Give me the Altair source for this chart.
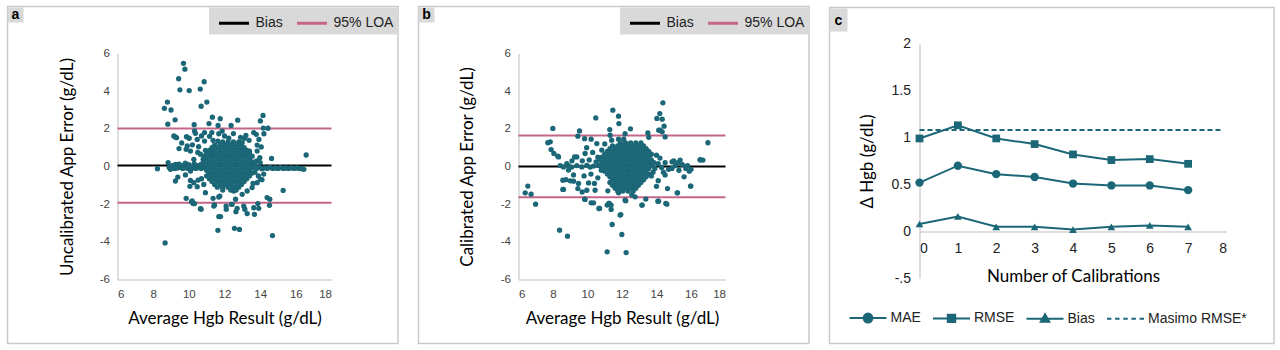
import altair as alt
import pandas as pd

TEAL = "#1b6777"
PINK = "#c4668a"
BOX = "#d9d9d9"
FRAME = "#c9c9c9"
TFONT = "Lato"
LFONT = "Liberation Sans"

# ---------------- panel a : uncalibrated ----------------
a_scatter = [
    (9.70, 5.48), (9.78, 5.17), (9.43, 4.66), (9.50, 4.07), (10.02, 4.03), (10.86, 4.50),
    (10.64, 4.11), (11.01, 3.42), (10.69, 3.20), (8.80, 3.42), (8.63, 3.09), (9.00, 3.00),
    (8.82, 2.25), (9.23, 2.48), (11.32, 2.62), (11.76, 2.54), (12.74, 2.46), (14.16, 2.71),
    (14.01, 2.42), (14.18, 2.04), (14.44, 2.03), (11.13, 2.28), (11.64, 2.18), (12.37, 2.18),
    (10.30, 2.22),
    (9.16, 1.62), (9.31, 1.53), (9.22, 1.58), (9.87, 1.58), (10.02, 1.50), (9.91, 1.09),
    (9.85, 0.91), (10.09, 0.82), (10.32, 1.88), (10.47, 1.44), (10.88, 1.80), (10.88, 1.35),
    (10.93, 0.86), (11.14, 0.82), (10.65, 0.65), (10.28, 0.38), (10.80, 0.38), (11.36, 1.39),
    (11.16, 1.60), (11.63, 1.35), (11.68, 1.74), (11.87, 1.88), (12.24, 1.50), (12.99, 1.27),
    (13.12, 1.50), (13.38, 1.39), (13.64, 1.80), (13.78, 1.71), (13.93, 1.44), (14.21, 1.74),
    (13.83, 1.14), (14.06, 1.04), (13.98, 0.47), (14.64, 0.43), (13.83, 0.82), (13.40, 0.82),
    (10.37, 1.76), (10.71, 1.62), (11.29, 1.80), (12.00, 1.62), (12.50, 1.75), (12.90, 1.55),
    (13.20, 1.65), (9.60, 1.25), (10.55, 1.05), (10.20, 1.15), (9.45, 0.95), (10.50, 0.75),
    (8.24, -0.12), (8.84, 0.20), (8.97, -0.15), (9.25, 0.11), (9.45, 0.12), (9.60, 0.05),
    (9.10, 0.05), (9.80, 0.18), (10.00, 0.10), (10.30, 0.15), (10.50, 0.05), (10.70, 0.12),
    (8.90, -0.05), (9.05, 0.02), (9.20, -0.10), (9.35, -0.08), (9.50, -0.05), (9.65, -0.10),
    (9.80, -0.07), (9.95, -0.10), (10.10, -0.05), (10.25, -0.08), (10.40, -0.10), (10.55, -0.06),
    (10.70, -0.10), (10.85, -0.05), (13.80, -0.10), (13.95, -0.05), (14.10, -0.12), (14.25, -0.07),
    (14.40, -0.10), (14.55, -0.05), (14.70, -0.10), (14.85, -0.08), (15.00, -0.10), (15.15, -0.06),
    (15.30, -0.10), (15.45, -0.08), (15.60, -0.10), (15.75, -0.07), (15.90, -0.10), (16.05, -0.08),
    (16.20, -0.10), (16.35, -0.12), (16.45, -0.15), (16.58, 0.61),
    (9.25, -0.77), (9.38, -0.56), (9.81, -0.45), (10.09, -0.24), (10.06, -1.05), (10.28, -0.86),
    (10.47, -1.07), (10.52, -0.72), (10.71, -0.65), (10.84, -0.95), (10.93, -1.39), (9.85, -1.69),
    (10.15, -1.87), (10.24, -1.97), (10.65, -2.24), (11.36, -1.69), (11.68, -1.62), (11.44, -2.04),
    (12.09, -2.10), (12.43, -2.01), (12.71, -2.22), (12.62, -1.74), (13.08, -2.10), (13.64, -2.19),
    (13.87, -1.97), (14.39, -1.65), (14.52, -2.06), (13.83, -0.86), (14.02, -0.68), (13.55, -1.12),
    (13.27, -1.30), (12.99, -1.48), (12.52, -1.30), (10.09, -0.74), (10.19, -1.83), (10.32, -1.97),
    (10.69, -2.27), (11.74, -1.57), (12.39, -2.01), (12.64, -2.40), (13.14, -2.27), (13.27, -2.50),
    (13.68, -2.54), (13.92, -2.22), (14.54, -1.74), (15.29, -1.27), (11.40, -2.10), (12.10, -2.27),
    (11.68, -2.66), (11.78, -2.66), (11.63, -3.39), (12.56, -3.28), (12.84, -3.34), (8.67, -4.06),
    (14.69, -3.67), (13.70, -0.30), (13.90, -0.50), (14.10, -0.70), (13.60, -0.90), (14.20, -0.40),
    (13.80, 0.30), (14.00, 0.20),
]
a_core_rows = [1.3, 1.15, 1.0, 0.85, 0.7, 0.55, 0.4, 0.25, 0.1, -0.05, -0.2, -0.35, -0.5, -0.65, -0.8, -0.95, -1.1, -1.25]
a_core_x = [
    [11.9, 12.2, 12.5, 12.8],
    [11.45, 11.75, 12.05, 12.35, 12.65, 12.95],
    [11.3, 11.6, 11.9, 12.2, 12.5, 12.8, 13.1],
    [11.15, 11.45, 11.75, 12.05, 12.35, 12.65, 12.95, 13.25],
    [11.0, 11.3, 11.6, 11.9, 12.2, 12.5, 12.8, 13.1, 13.4],
    [10.85, 11.15, 11.45, 11.75, 12.05, 12.35, 12.65, 12.95, 13.25, 13.55],
    [11.0, 11.3, 11.6, 11.9, 12.2, 12.5, 12.8, 13.1, 13.4],
    [10.85, 11.15, 11.45, 11.75, 12.05, 12.35, 12.65, 12.95, 13.25, 13.55],
    [11.0, 11.3, 11.6, 11.9, 12.2, 12.5, 12.8, 13.1, 13.4, 13.7],
    [10.85, 11.15, 11.45, 11.75, 12.05, 12.35, 12.65, 12.95, 13.25, 13.55],
    [11.0, 11.3, 11.6, 11.9, 12.2, 12.5, 12.8, 13.1, 13.4],
    [11.15, 11.45, 11.75, 12.05, 12.35, 12.65, 12.95, 13.25, 13.55],
    [11.0, 11.3, 11.6, 11.9, 12.2, 12.5, 12.8, 13.1, 13.4],
    [11.15, 11.45, 11.75, 12.05, 12.35, 12.65, 12.95, 13.25],
    [11.3, 11.6, 11.9, 12.2, 12.5, 12.8, 13.1],
    [11.45, 11.75, 12.05, 12.35, 12.65, 12.95],
    [11.6, 11.9, 12.2, 12.5, 12.8],
    [11.9, 12.35, 12.65],
]
a_bias = 0.05
a_loa = [2.02, -1.92]

# ---------------- panel b : calibrated ----------------
b_scatter = [
    (6.39, -1.40), (6.54, -1.04), (6.73, -1.47), (6.99, -2.00), (7.99, 2.02), (7.70, 1.26),
    (7.84, 1.31), (7.89, 0.90), (8.05, 0.69), (8.28, 0.55), (8.38, -3.38), (8.84, -3.70),
    (8.57, -1.22), (8.57, -0.73), (9.25, 0.51), (9.54, 1.89), (10.48, 2.58), (11.47, 2.99),
    (11.80, 2.67), (11.82, 2.28), (11.29, 1.96), (12.49, 2.00), (14.37, 3.38), (14.19, 2.81),
    (14.02, 2.55), (14.33, 2.51), (14.13, 1.93), (14.44, 2.14), (14.33, 1.84), (16.98, 1.26),
    (16.53, 0.37), (16.69, 0.34), (15.97, -1.04), (15.20, -1.40), (14.60, -2.00), (14.08, -1.84),
    (13.17, -2.05), (12.18, -1.79), (11.14, -4.53), (12.24, -4.57), (11.99, -3.61), (11.43, -3.08),
    (11.89, -2.58), (11.14, -2.05), (11.24, -1.96), (11.37, -2.28), (10.66, -2.23), (10.21, -1.93),
    (9.83, -1.73), (9.19, -0.78), (9.69, -1.35),
    (9.44, 1.61), (9.83, 1.48), (10.21, 1.45), (10.54, 1.22), (11.00, 1.20), (11.31, 1.66),
    (11.40, 1.40), (11.80, 1.45), (12.18, 1.74), (12.10, 1.45), (13.50, 1.79), (13.55, 1.55),
    (14.50, 1.57), (14.21, 1.93), (8.32, 0.51), (9.38, 0.51), (9.86, 0.69), (10.30, 0.75),
    (9.95, 1.00), (10.83, 0.87), (10.60, 0.50), (9.70, 0.30), (10.10, 0.35), (9.10, 0.30),
    (8.80, 0.15),
    (8.61, -1.22), (9.00, -0.76), (8.75, -0.70), (8.90, -0.19), (9.19, -0.45), (9.48, -0.90),
    (9.44, -1.17), (9.96, -1.26), (10.06, -0.87), (10.44, -1.26), (9.86, -1.75), (10.35, -1.93),
    (10.70, -2.23), (11.18, -1.29), (11.26, -1.96), (11.37, -2.05), (12.22, -1.82), (11.93, -2.55),
    (13.15, -2.05), (13.38, -1.73), (14.12, -1.84), (14.54, -1.96), (14.64, -1.17), (15.22, -1.40),
    (15.99, -1.04), (15.60, -0.55), (15.37, 0.34), (14.90, -0.10), (14.50, -0.45), (14.10, -0.75),
    (14.00, -1.05), (13.70, -0.50), (16.53, 0.34), (16.00, -0.15), (15.80, 0.05), (12.76, -1.61),
    (12.57, -1.50), (11.80, -1.40), (10.60, -0.60), (10.20, -0.40), (9.80, -0.50), (10.40, -0.90),
    (8.42, 0.05), (8.61, -0.02), (8.90, 0.04), (9.09, -0.03), (9.38, 0.05), (9.67, -0.02),
    (9.96, 0.06), (10.15, -0.03), (10.35, 0.02), (10.64, 0.05), (10.50, 0.25), (10.80, -0.20),
    (13.70, 0.10), (13.90, -0.10), (14.10, 0.15), (14.30, -0.05), (14.50, 0.20), (14.70, -0.15),
    (14.90, 0.25), (15.10, 0.05), (15.30, -0.20), (15.50, 0.10), (15.70, -0.10), (15.90, -0.25),
    (14.20, 0.45), (14.00, 0.60), (14.40, -0.30), (13.80, -0.30), (15.00, 0.30), (15.25, 0.20),
]
b_core_rows = [1.25, 1.1, 0.95, 0.8, 0.65, 0.5, 0.35, 0.2, 0.05, -0.1, -0.25, -0.4, -0.55, -0.7, -0.85, -1.0, -1.15, -1.3]
b_core_x = [
    [11.9, 12.2, 12.5, 12.8, 13.1],
    [11.45, 11.75, 12.05, 12.35, 12.65, 12.95, 13.25],
    [11.3, 11.6, 11.9, 12.2, 12.5, 12.8, 13.1, 13.4],
    [11.15, 11.45, 11.75, 12.05, 12.35, 12.65, 12.95, 13.25, 13.55],
    [11.0, 11.3, 11.6, 11.9, 12.2, 12.5, 12.8, 13.1, 13.4, 13.7],
    [10.85, 11.15, 11.45, 11.75, 12.05, 12.35, 12.65, 12.95, 13.25, 13.55],
    [10.7, 11.0, 11.3, 11.6, 11.9, 12.2, 12.5, 12.8, 13.1, 13.4, 13.7],
    [10.85, 11.15, 11.45, 11.75, 12.05, 12.35, 12.65, 12.95, 13.25, 13.55, 13.85],
    [10.7, 11.0, 11.3, 11.6, 11.9, 12.2, 12.5, 12.8, 13.1, 13.4, 13.7],
    [10.85, 11.15, 11.45, 11.75, 12.05, 12.35, 12.65, 12.95, 13.25, 13.55],
    [11.0, 11.3, 11.6, 11.9, 12.2, 12.5, 12.8, 13.1, 13.4],
    [11.15, 11.45, 11.75, 12.05, 12.35, 12.65, 12.95, 13.25, 13.55],
    [11.3, 11.6, 11.9, 12.2, 12.5, 12.8, 13.1, 13.4],
    [11.45, 11.75, 12.05, 12.35, 12.65, 12.95, 13.25],
    [11.3, 11.6, 11.9, 12.2, 12.5, 12.8, 13.1],
    [11.45, 11.75, 12.05, 12.35, 12.65, 12.95],
    [11.6, 11.9, 12.2, 12.5, 12.8],
    [11.75, 12.05, 12.35, 12.65],
]
b_bias = 0.0
b_loa = [1.65, -1.63]

# ---------------- panel c : calibration curve ----------------
calibrations = [0, 1, 2, 3, 4, 5, 6, 7]
mae = [0.52, 0.70, 0.61, 0.58, 0.51, 0.49, 0.49, 0.44]
rmse = [0.99, 1.13, 0.99, 0.93, 0.82, 0.76, 0.77, 0.72]
bias_c = [0.08, 0.16, 0.05, 0.05, 0.02, 0.05, 0.065, 0.05]
masimo_rmse = 1.08
masimo_span = [0, 7.85]
series_names = ["MAE", "RMSE", "Bias", "Masimo RMSE*"]
legend_paths = [
    "M-1,0H1M-0.24,0A0.24,0.24,0,1,1,0.24,0A0.24,0.24,0,1,1,-0.24,0Z",
    "M-1,0H1M-0.2,-0.2H0.2V0.2H-0.2Z",
    "M-1,0H1M0,-0.24L0.23,0.17H-0.23Z",
    "M-1,0H-0.76M-0.56,0H-0.32M-0.12,0H0.12M0.32,0H0.56M0.76,0H1",
]


def scatter_df(points, rows, xs):
    data = [{"x": p[0], "y": p[1]} for p in points]
    for yv, row in zip(rows, xs):
        for xv in row:
            data.append({"x": xv, "y": yv})
    return pd.DataFrame(data)


def deco(x1, x2, y1, y2, fill, stroke=None):
    props = dict(fill=fill)
    if stroke:
        props.update(stroke=stroke, strokeWidth=1.5, fillOpacity=0)
    return alt.Chart(pd.DataFrame({"k": [0]})).mark_rect(**props).encode(
        x=alt.value(x1), x2=alt.value(x2), y=alt.value(y1), y2=alt.value(y2)
    )


def letter(txt, x, y):
    return alt.Chart(pd.DataFrame({"k": [0]})).mark_text(
        text=txt, font="Liberation Sans", fontWeight="bold", fontSize=14, color="black"
    ).encode(x=alt.value(x), y=alt.value(y))


num_label = "datum.value < 0 ? '-' + toString(-datum.value) : toString(datum.value)"


def bland_altman(points, rows, xs, bias, loa, ytitle, w, left, letter_txt, ytpad, legx):
    H = 226
    right = left + 390.5
    df = scatter_df(points, rows, xs)
    xax = alt.Axis(values=[6, 8, 10, 12, 14, 16, 18], tickCount=20, ticks=False, grid=False,
                   domainColor="#bdbdbd", labelOverlap=False, labelFont=LFONT, labelFontSize=11.5,
                   labelColor="#444", labelPadding=9, labelExpr=num_label,
                   title="Average Hgb Result (g/dL)", titleFont=TFONT, titleFontSize=17,
                   titleFontWeight="normal", titlePadding=10, titleColor="black")
    yax = alt.Axis(values=[-6, -4, -2, 0, 2, 4, 6], tickCount=20, ticks=False, grid=False,
                   domainColor="#bdbdbd", labelOverlap=False, labelFont=LFONT, labelFontSize=11.5,
                   labelColor="#444", labelPadding=8, labelExpr=num_label, title=ytitle,
                   titleFont=TFONT, titleFontSize=17, titleFontWeight="normal",
                   titlePadding=ytpad, titleColor="black")
    pts = alt.Chart(df).mark_circle(size=28, color=TEAL, opacity=1).encode(
        x=alt.X("x:Q", scale=alt.Scale(domain=[6, 18], nice=False), axis=xax),
        y=alt.Y("y:Q", scale=alt.Scale(domain=[-6, 6], nice=False), axis=yax),
    )
    lines = pd.DataFrame({"kind": ["Bias", "95% LOA", "95% LOA"], "y": [bias, loa[0], loa[1]]})
    rules = alt.Chart(lines).mark_rule(strokeWidth=2).encode(
        y="y:Q",
        color=alt.Color("kind:N", scale=alt.Scale(domain=["Bias", "95% LOA"], range=["black", PINK]),
                        legend=alt.Legend(title=None, orient="none", legendX=legx, legendY=-47,
                                          direction="horizontal", symbolType="stroke", symbolSize=900,
                                          symbolStrokeWidth=3, labelFont=LFONT, labelFontSize=14,
                                          labelColor="#222", labelOffset=5, columnPadding=7, padding=0)),
    )
    frame = deco(left, right, -47, 290, "white", FRAME)
    legbox = deco(right - 189, right, -46, -19, BOX)
    lbox = deco(left, left + 16, -46, -31, BOX)
    let = letter(letter_txt, left + 8, -38.5)
    return alt.layer(frame, legbox, lbox, let, rules, pts).properties(width=w, height=H)


panel_a = bland_altman(a_scatter, a_core_rows, a_core_x, a_bias, a_loa,
                       "Uncalibrated App Error (g/dL)", 214, -110, "a", 23, 100)
panel_b = bland_altman(b_scatter, b_core_rows, b_core_x, b_bias, b_loa,
                       "Calibrated App Error (g/dL)", 207, -100, "b", 24, 110)

# panel c  (plot origin shared with a/b; its y range starts 10px above the origin)
W_c, H_c = 307, 225
rows = []
for name, vals in (("MAE", mae), ("RMSE", rmse), ("Bias", bias_c)):
    for n, v in zip(calibrations, vals):
        rows.append({"series": name, "n": n, "v": v})
cdf = pd.DataFrame(rows)
mdf = pd.DataFrame({"series": ["Masimo RMSE*"] * 2, "n": masimo_span, "v": [masimo_rmse] * 2})

cx = alt.X("n:Q", scale=alt.Scale(domain=[0, 8], nice=False),
           axis=alt.Axis(values=calibrations + [8], tickCount=20, ticks=False, grid=False,
                         domainColor="#bdbdbd", labelOverlap=False, offset=-47, labelFont=LFONT,
                         labelFontSize=14, labelColor="#222", labelPadding=10,
                         labelExpr="toString(datum.value)",
                         title="Number of Calibrations", titleFont=TFONT, titleFontSize=17,
                         titleFontWeight="normal", titlePadding=13, titleColor="black"))
cy = alt.Y("v:Q", scale=alt.Scale(domain=[-0.5, 2], nice=False, range=[225, -10]),
           axis=alt.Axis(values=[-0.5, 0, 0.5, 1, 1.5, 2], tickCount=20, ticks=False, grid=False,
                         domainColor="#bdbdbd", labelOverlap=False, labelFont=LFONT, labelFontSize=14,
                         labelColor="#222", labelPadding=9,
                         labelExpr="datum.value == -0.5 ? '-.5' : toString(datum.value)",
                         title="\u0394 Hgb (g/dL)", titleFont=TFONT, titleFontSize=17,
                         titleFontWeight="normal", titlePadding=15, titleColor="black"))

c_lines = alt.Chart(cdf).mark_line(color=TEAL, strokeWidth=2).encode(x=cx, y=cy, detail="series:N")
c_masimo = alt.Chart(mdf).mark_line(color=TEAL, strokeWidth=2, strokeDash=[5, 3]).encode(x="n:Q", y="v:Q")
c_mae = alt.Chart(cdf[cdf.series == "MAE"]).mark_point(shape="circle", size=70, filled=True, color=TEAL, opacity=1).encode(x="n:Q", y="v:Q")
c_rmse = alt.Chart(cdf[cdf.series == "RMSE"]).mark_point(shape="square", size=60, filled=True, color=TEAL, opacity=1).encode(x="n:Q", y="v:Q")
c_bias = alt.Chart(cdf[cdf.series == "Bias"]).mark_point(shape="triangle-up", size=60, filled=True, color=TEAL, opacity=1).encode(x="n:Q", y="v:Q")

leg_df = pd.DataFrame({"series": series_names, "n": [0] * 4, "v": [-1.2] * 4})
leg_scale = alt.Scale(domain=series_names, range=[TEAL] * 4)
c_legend = alt.Legend(title=None, orient="none", legendX=-71, legendY=245, direction="horizontal",
                      symbolSize=1369, symbolStrokeWidth=2, labelFont=LFONT, labelFontSize=14,
                      labelColor="#222", labelOffset=3, columnPadding=7.5, padding=0)
c_leg = alt.Chart(leg_df).mark_point(clip=True, strokeWidth=2, opacity=1).encode(
    x="n:Q", y="v:Q",
    fill=alt.Fill("series:N", scale=leg_scale, legend=c_legend),
    stroke=alt.Stroke("series:N", scale=leg_scale, legend=c_legend),
    shape=alt.Shape("series:N", scale=alt.Scale(domain=series_names, range=legend_paths), legend=c_legend),
)

c_frame = deco(-90, 354.5, -46, 290, "white", FRAME)
c_lbox = deco(-90, -72, -45, -22, BOX)
c_let = letter("c", -81, -33)

panel_c = alt.layer(c_frame, c_lbox, c_let, c_lines, c_masimo, c_mae, c_rmse, c_bias, c_leg).properties(
    width=W_c, height=H_c)

chart = alt.hconcat(panel_a, panel_b, panel_c, spacing=18).resolve_scale(
    color="independent", shape="independent", fill="independent", stroke="independent"
).resolve_legend(
    color="independent", shape="independent", fill="independent", stroke="independent"
).properties(
    padding={"left": 6.5, "top": 5.5, "right": 0, "bottom": 0}, background="white"
).configure_view(strokeWidth=0)

chart.save("out.html", embed_options={"renderer": "svg", "actions": False})
